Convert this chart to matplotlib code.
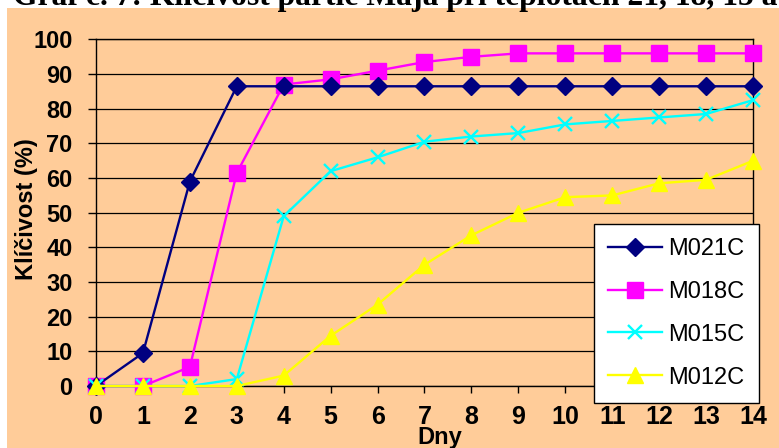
import matplotlib
matplotlib.use("Agg")
import matplotlib.pyplot as plt
from matplotlib.patches import Rectangle

W, H = 779, 448

days = list(range(15))
m021c = [0, 9.5, 59, 86.5, 86.5, 86.5, 86.5, 86.5, 86.5, 86.5, 86.5, 86.5, 86.5, 86.5, 86.5]
m018c = [0, 0, 5.5, 61.5, 87, 88.5, 91, 93.5, 95, 96, 96, 96, 96, 96, 96]
m015c = [0, 0, 0, 2, 49, 62, 66, 70.5, 72, 73, 75.5, 76.5, 77.5, 78.5, 82.5]
m012c = [0, 0, 0, 0, 3, 14.5, 23.5, 35, 43.5, 50, 54.5, 55, 58.5, 59.5, 65]
labels = ["M021C", "M018C", "M015C", "M012C"]
title = "Graf č. 7: Klíčivost partie Maja při teplotách 21, 18, 15 a 12 °C"

plt.rcParams['font.family'] = ['Liberation Sans', 'DejaVu Sans']

fig = plt.figure(figsize=(W / 100, H / 100), dpi=100)
fig.patch.set_facecolor("white")
# orange chart area
bg = Rectangle((7 / W, 0), 1, 1 - 8 / H, transform=fig.transFigure,
               facecolor="#FFCC99", edgecolor="none", zorder=-10)
fig.patches.append(bg)

ax = fig.add_axes([96 / W, 1 - 386 / H, (753 - 96) / W, (386 - 39.5) / H])
ax.set_facecolor("#FFCC99")

ax.plot(days, m021c, color="#000080", marker="D", ms=9.5, lw=1.7, clip_on=False, zorder=5, label=labels[0])
ax.plot(days, m018c, color="#FF00FF", marker="s", ms=11, lw=1.7, clip_on=False, zorder=4, label=labels[1])
ax.plot(days, m015c, color="#00FFFF", marker="x", ms=10.5, mew=1.7, lw=1.7, clip_on=False, zorder=6, label=labels[2])
ax.plot(days, m012c, color="#FFFF00", marker="^", ms=12, lw=1.7, clip_on=False, zorder=7, label=labels[3])

ax.set_xlim(0, 14)
ax.set_ylim(0, 100)
ax.set_xticks(days)
ax.set_yticks(range(0, 101, 10))
ax.grid(axis="y", color="black", lw=0.9)
ax.set_axisbelow(True)
for s in ax.spines.values():
    s.set_color("black")
    s.set_linewidth(1.0)

ax.tick_params(axis="x", direction="out", length=5, width=1, pad=9, labelsize=18)
ax.tick_params(axis="y", direction="out", length=6, width=1, pad=11, labelsize=17)
for t in ax.get_xticklabels() + ax.get_yticklabels():
    t.set_fontweight("bold")

fig.text(27 / W, 1 - 209 / H, "Klíčivost (%)", rotation=90, ha="center", va="center",
         fontsize=17, fontweight="bold")
fig.text(440 / W, 1 - 444 / H, "Dny", ha="center", va="baseline",
         fontsize=17, fontweight="bold")

# title is cut off at the top edge in the reference
fig.text(13 / W, 1 - 5 / H, title, ha="left", va="baseline", fontsize=22.8,
         fontweight="bold", family=["Liberation Serif", "DejaVu Serif"])

leg = ax.legend(loc="upper left", bbox_to_anchor=(594 / W, 1 - 224 / H),
                bbox_transform=fig.transFigure, fontsize=17, frameon=True,
                fancybox=False, framealpha=1, edgecolor="black", facecolor="white",
                handlelength=2.3, handletextpad=0.25, labelspacing=0.88,
                borderpad=0.6, borderaxespad=0)
leg.get_frame().set_linewidth(1.0)
leg.set_zorder(10)

fig.savefig("out.png", dpi=100, facecolor=fig.get_facecolor())
